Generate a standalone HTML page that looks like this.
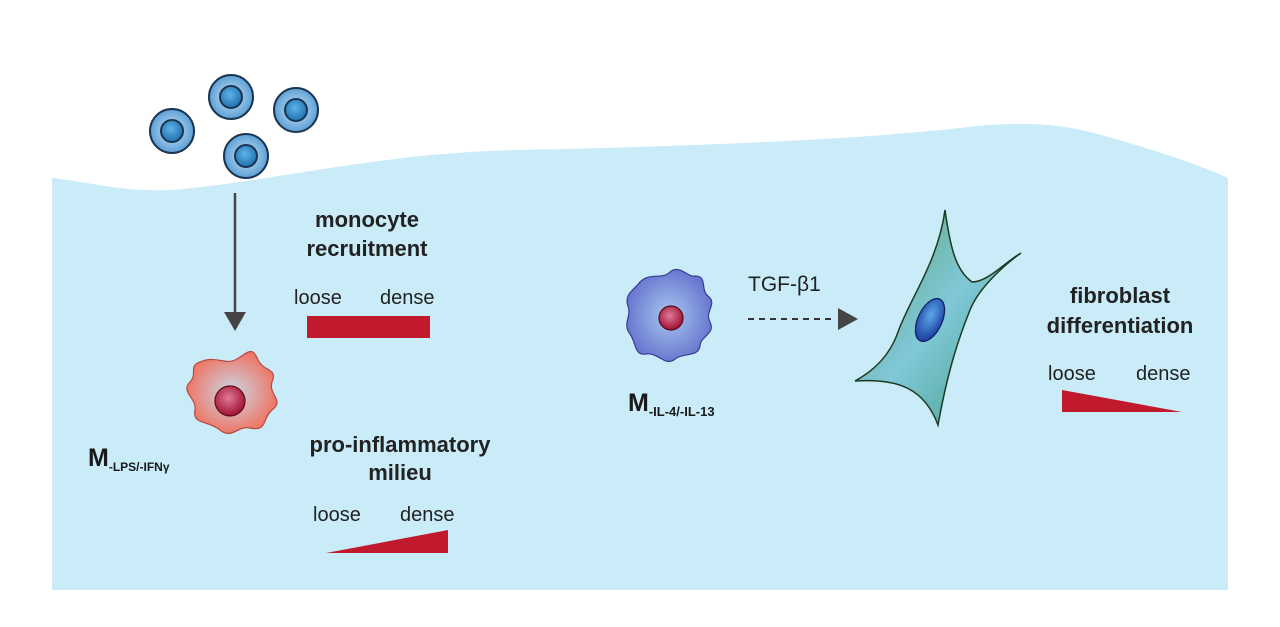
<!DOCTYPE html>
<html><head><meta charset="utf-8"><style>
body{margin:0;background:#fff;width:1280px;height:622px;overflow:hidden;font-family:"Liberation Sans",Arial,sans-serif}
</style></head><body>
<svg width="1280" height="622" viewBox="0 0 1280 622" xmlns="http://www.w3.org/2000/svg">
<defs>
<radialGradient id="mono" cx="50%" cy="50%" r="50%"><stop offset="0" stop-color="#cfe6f6"/><stop offset="1" stop-color="#5b9fd6"/></radialGradient>
<radialGradient id="monoN" cx="45%" cy="40%" r="60%"><stop offset="0" stop-color="#5fb3e8"/><stop offset="1" stop-color="#1f6fb0"/></radialGradient>
<radialGradient id="m1" cx="50%" cy="50%" r="50%"><stop offset="0" stop-color="#c9d8e8"/><stop offset="1" stop-color="#ee7766"/></radialGradient>
<radialGradient id="m2" cx="50%" cy="50%" r="50%"><stop offset="0" stop-color="#a8c8f0"/><stop offset="1" stop-color="#6a78d0"/></radialGradient>
<radialGradient id="nuc" cx="45%" cy="40%" r="60%"><stop offset="0" stop-color="#e07a9a"/><stop offset="1" stop-color="#a01030"/></radialGradient>
<linearGradient id="fib" x1="0" y1="0" x2="1" y2="1"><stop offset="0" stop-color="#5aa070"/><stop offset="0.5" stop-color="#80c8d8"/><stop offset="1" stop-color="#3e9a80"/></linearGradient>
<radialGradient id="fn" cx="45%" cy="40%" r="60%"><stop offset="0" stop-color="#5aa8ea"/><stop offset="1" stop-color="#1e3fa0"/></radialGradient>
</defs>
<path d="M52,178 C90,182 120,192 170,190 C260,184 380,152 520,150 C700,146 850,140 960,128 C1010,122 1050,122 1090,132 C1150,148 1200,165 1228,178 L1228,590 L52,590 Z" fill="#c9ecf8"/>
<g stroke="#1a3550" stroke-width="2">
<circle cx="172" cy="131" r="22" fill="url(#mono)"/><circle cx="172" cy="131" r="11" fill="url(#monoN)"/>
<circle cx="231" cy="97" r="22" fill="url(#mono)"/><circle cx="231" cy="97" r="11" fill="url(#monoN)"/>
<circle cx="296" cy="110" r="22" fill="url(#mono)"/><circle cx="296" cy="110" r="11" fill="url(#monoN)"/>
<circle cx="246" cy="156" r="22" fill="url(#mono)"/><circle cx="246" cy="156" r="11" fill="url(#monoN)"/>
</g>
<line x1="235" y1="193" x2="235" y2="312" stroke="#444" stroke-width="2.5"/>
<polygon points="224,312 246,312 235,331" fill="#444"/>
<path d="M200,362 C215,355 225,365 235,360 C248,353 252,345 258,360 C264,372 278,368 272,382 C268,395 285,400 272,410 C262,418 268,432 250,428 C238,425 232,440 220,430 C208,420 192,425 195,410 C197,398 180,392 190,382 C198,374 188,366 200,362 Z" fill="url(#m1)" stroke="#b84a44" stroke-width="1.2"/>
<circle cx="230" cy="401" r="15" fill="url(#nuc)" stroke="#5a0a18" stroke-width="1.2"/>
<text x="88" y="466" font-size="25" font-weight="bold" fill="#1a1a1a">M<tspan font-size="12" dy="5">-LPS/-IFNγ</tspan></text>
<text x="367" y="227" font-size="22" font-weight="bold" text-anchor="middle" fill="#222">monocyte</text>
<text x="367" y="256" font-size="22" font-weight="bold" text-anchor="middle" fill="#222">recruitment</text>
<text x="294" y="304" font-size="20" fill="#222">loose</text>
<text x="380" y="304" font-size="20" fill="#222">dense</text>
<rect x="307" y="316" width="123" height="22" fill="#c01a2c"/>
<text x="400" y="452" font-size="22" font-weight="bold" text-anchor="middle" fill="#222">pro-inflammatory</text>
<text x="400" y="480" font-size="22" font-weight="bold" text-anchor="middle" fill="#222">milieu</text>
<text x="313" y="521" font-size="20" fill="#222">loose</text>
<text x="400" y="521" font-size="20" fill="#222">dense</text>
<polygon points="326,553 448,530 448,553" fill="#c01a2c"/>
<path d="M640,282 C650,272 662,280 670,272 C680,264 688,278 695,276 C708,276 700,290 708,296 C718,304 704,312 710,322 C716,334 700,336 700,346 C698,358 682,352 674,360 C664,366 658,352 646,354 C634,356 636,342 630,334 C622,324 632,316 628,306 C624,294 634,290 640,282 Z" fill="url(#m2)" stroke="#3a3c90" stroke-width="1.2"/>
<circle cx="671" cy="318" r="12" fill="url(#nuc)" stroke="#5a0a18" stroke-width="1.2"/>
<text x="628" y="411" font-size="25" font-weight="bold" fill="#1a1a1a">M<tspan font-size="13" dy="5">-IL-4/-IL-13</tspan></text>
<text x="748" y="291" font-size="21" fill="#222">TGF-β1</text>
<line x1="748" y1="319" x2="836" y2="319" stroke="#333" stroke-width="2" stroke-dasharray="6,5"/>
<polygon points="838,308 858,319 838,330" fill="#444"/>
<path d="M945,210 C950,245 955,270 972,282 C988,282 1005,262 1021,253 C1000,268 978,290 970,310 C958,340 948,370 938,425 C925,390 900,378 855,381 C875,370 890,355 898,332 C910,298 938,262 945,210 Z" fill="url(#fib)" stroke="#1e3a20" stroke-width="1.5"/>
<ellipse cx="930" cy="320" rx="12" ry="23" transform="rotate(25 930 320)" fill="url(#fn)" stroke="#0f1f60" stroke-width="1.2"/>
<text x="1120" y="303" font-size="22" font-weight="bold" text-anchor="middle" fill="#222">fibroblast</text>
<text x="1120" y="333" font-size="22" font-weight="bold" text-anchor="middle" fill="#222">differentiation</text>
<text x="1048" y="380" font-size="20" fill="#222">loose</text>
<text x="1136" y="380" font-size="20" fill="#222">dense</text>
<polygon points="1062,390 1062,412 1182,412" fill="#c01a2c"/>
</svg>
</body></html>
